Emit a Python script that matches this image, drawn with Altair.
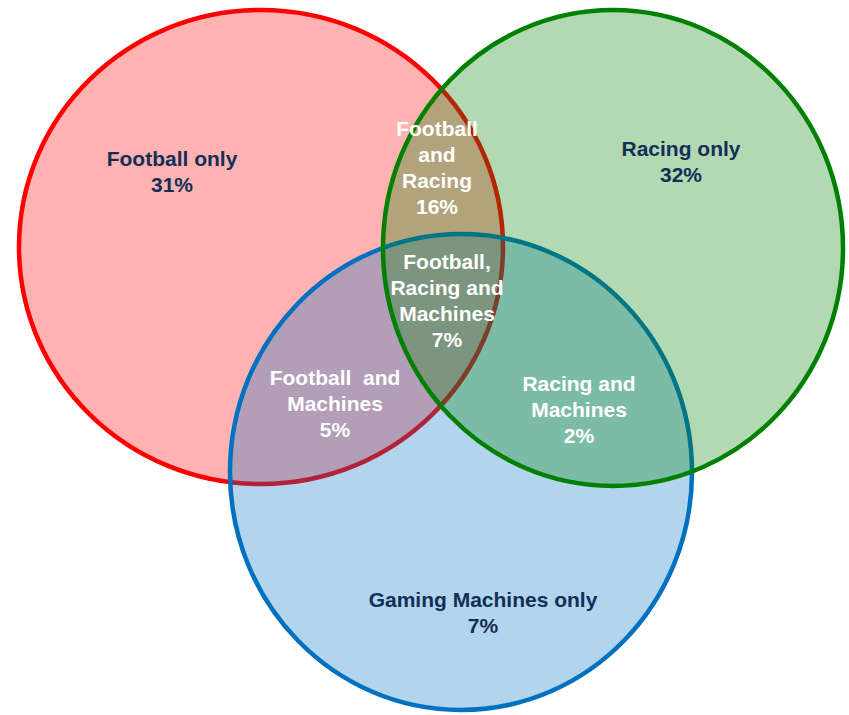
import altair as alt
import pandas as pd

# Venn sets (geometry, in pixel units)
set_names = ["Football", "Racing", "Gaming Machines"]
centre_x = [261, 613, 461]
centre_y = [247, 248, 472]
radius_x = [242, 230, 231]
radius_y = [237, 238, 238]
stroke_colors = ["#ff0000", "#008000", "#0070c0"]

# Region labels (y = first line)
label_texts = [
    "Football only\n31%",
    "Racing only\n32%",
    "Football\nand\nRacing\n16%",
    "Football,\nRacing and\nMachines\n7%",
    "Football \u00a0and\nMachines\n5%",
    "Racing and\nMachines\n2%",
    "Gaming Machines only\n7%",
]
label_x = [172, 681, 437, 447, 335, 579, 483]
label_y = [160, 150, 130, 263, 379, 385, 601]
label_colors = ["#132f57", "#132f57", "white", "white", "white", "white", "#132f57"]

K = 0.5523


def ellipse_path(a, b):
    return (
        f"M {a} 0 C {a} {K*b} {K*a} {b} 0 {b} "
        f"C {-K*a} {b} {-a} {K*b} {-a} 0 "
        f"C {-a} {-K*b} {-K*a} {-b} 0 {-b} "
        f"C {K*a} {-b} {a} {-K*b} {a} 0 Z"
    )


rows = []
for n, cx, cy, rx, ry, col in zip(set_names, centre_x, centre_y, radius_x, radius_y, stroke_colors):
    s = max(rx, ry)
    rows.append({
        "name": n, "cx": cx, "cy": cy,
        "size": (2 * s) ** 2,
        "shape": ellipse_path(rx / s, ry / s),
        "color": col,
    })
circles = pd.DataFrame(rows)

labels = pd.DataFrame({"text": label_texts, "x": label_x, "y": label_y, "color": label_colors})

W, H = 849, 715
xs = alt.Scale(domain=[0, W], range=[0, W], nice=False, zero=False)
ys = alt.Scale(domain=[0, H], range=[0, H], nice=False, zero=False)

circle_layer = alt.Chart(circles).mark_point(
    filled=True, fillOpacity=0.3, strokeOpacity=1, strokeWidth=4.5, opacity=1
).encode(
    x=alt.X("cx:Q", scale=xs, axis=None),
    y=alt.Y("cy:Q", scale=ys, axis=None),
    size=alt.Size("size:Q", scale=None),
    shape=alt.Shape("shape:N", scale=None),
    fill=alt.Fill("color:N", scale=None),
    stroke=alt.Stroke("color:N", scale=None),
    order=alt.Order("cx:Q", sort="ascending"),
)

text_layer = alt.Chart(labels).mark_text(
    font="Liberation Sans", fontWeight="bold", fontSize=21,
    lineBreak="\n", lineHeight=26, align="center", baseline="middle"
).encode(
    x=alt.X("x:Q", scale=xs, axis=None),
    y=alt.Y("y:Q", scale=ys, axis=None),
    text="text:N",
    color=alt.Color("color:N", scale=None),
)

chart = alt.layer(circle_layer, text_layer).properties(
    width=W, height=H, padding=0, autosize=alt.AutoSizeParams(type="none")
).configure_view(stroke=None)

chart.save("out.html", embed_options={"renderer": "svg", "actions": False})
